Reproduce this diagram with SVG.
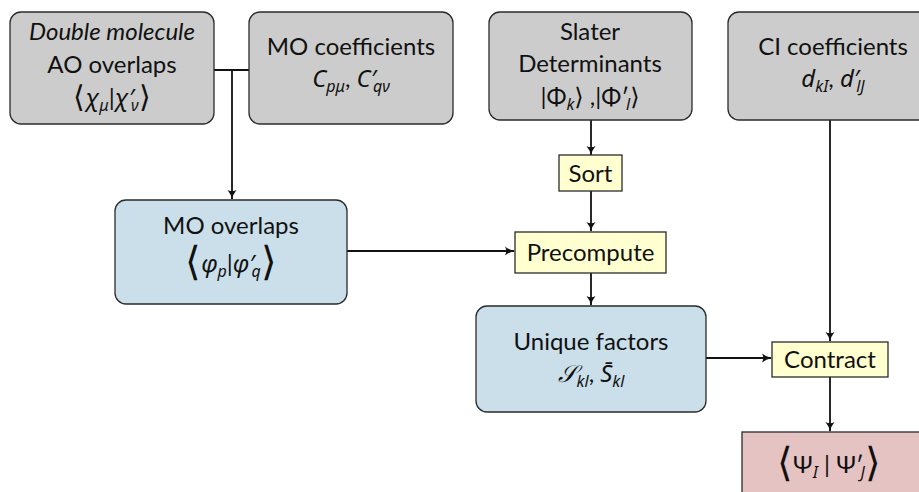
<svg xmlns="http://www.w3.org/2000/svg" width="919" height="492" viewBox="0 0 919 492">
<defs>
<style>
.box{stroke:#2b2b2b;stroke-width:1.3}
.grey{fill:#cccccc}
.blue{fill:#cadfea}
.yellow{fill:#ffffd0}
.pink{fill:#e6c3c3}
.t{font-family:Lato,"Noto Sans","DejaVu Sans",sans-serif;font-size:24px;fill:#111;text-anchor:middle}
.m{font-family:"Noto Sans","DejaVu Sans",sans-serif;font-style:italic}
.s{font-size:16px}
.big{font-size:40px;font-weight:300}
.mid{font-size:30px;font-weight:300}
.edge{stroke:#111;stroke-width:1.8;fill:none}
</style>
<marker id="arr" viewBox="0 0 10 10" refX="9" refY="5" markerWidth="10" markerHeight="10" markerUnits="userSpaceOnUse" orient="auto">
<path d="M0,0.5 Q4,4 10,5 Q4,6 0,9.5 Q2.5,5 0,0.5 z" fill="#111"/>
</marker>
</defs>
<rect width="919" height="492" fill="#ffffff"/>

<g id="connectors">
<path class="edge" d="M214,70 H249"/>
<path class="edge" d="M232,70 V199" marker-end="url(#arr)"/>
<path class="edge" d="M591,120 V155" marker-end="url(#arr)"/>
<path class="edge" d="M591,191 V231" marker-end="url(#arr)"/>
<path class="edge" d="M347,251 H514" marker-end="url(#arr)"/>
<path class="edge" d="M591,273 V305" marker-end="url(#arr)"/>
<path class="edge" d="M706,358 H771" marker-end="url(#arr)"/>
<path class="edge" d="M830,120 V341" marker-end="url(#arr)"/>
<path class="edge" d="M830,377 V431" marker-end="url(#arr)"/>
</g>

<g id="ao-overlaps">
<rect class="box grey" x="10" y="12" width="204" height="112" rx="11"/>
<text class="t" x="112" y="40" font-style="italic">Double molecule</text>
<text class="t" x="112" y="73">AO overlaps</text>
<text class="t" x="112" y="106"><tspan class="mid" dy="1">⟨</tspan><tspan class="m" dy="-1">χ</tspan><tspan class="m s" dy="5">μ</tspan><tspan dy="-5">|</tspan><tspan class="m">χ′</tspan><tspan class="m s" dy="5" dx="-3">ν</tspan><tspan class="mid" dy="-4">⟩</tspan></text>
</g>

<g id="mo-coefficients">
<rect class="box grey" x="249" y="12" width="204" height="112" rx="11"/>
<text class="t" x="351" y="55">MO coefficients</text>
<text class="t" x="351" y="87"><tspan class="m">C</tspan><tspan class="m s" dy="5">pμ</tspan><tspan dy="-5">, </tspan><tspan class="m">C′</tspan><tspan class="m s" dy="5" dx="-3">qν</tspan></text>
</g>

<g id="slater">
<rect class="box grey" x="489" y="12" width="203" height="108" rx="11"/>
<text class="t" x="590" y="40">Slater</text>
<text class="t" x="590" y="72">Determinants</text>
<text class="t" x="590" y="105">|Φ<tspan class="m s" dy="5">k</tspan><tspan dy="-5">⟩ ,|Φ′</tspan><tspan class="m s" dy="5" dx="-3">l</tspan><tspan dy="-5">⟩</tspan></text>
</g>

<g id="ci-coefficients">
<rect class="box grey" x="728" y="12" width="210" height="108" rx="11"/>
<text class="t" x="833" y="55">CI coefficients</text>
<text class="t" x="833" y="87"><tspan class="m">d</tspan><tspan class="m s" dy="5">kI</tspan><tspan dy="-5">, </tspan><tspan class="m">d′</tspan><tspan class="m s" dy="5" dx="-3">lJ</tspan></text>
</g>

<g id="sort">
<rect class="box yellow" x="559" y="155" width="63" height="36"/>
<text class="t" x="590.5" y="182">Sort</text>
</g>

<g id="mo-overlaps">
<rect class="box blue" x="115" y="200" width="232" height="104" rx="11"/>
<text class="t" x="231" y="234">MO overlaps</text>
<text class="t" x="231" y="272"><tspan class="big" dy="3">⟨</tspan><tspan class="m" dy="-3">φ</tspan><tspan class="m s" dy="5">p</tspan><tspan dy="-5">|</tspan><tspan class="m">φ′</tspan><tspan class="m s" dy="5" dx="-3">q</tspan><tspan class="big" dy="-2">⟩</tspan></text>
</g>

<g id="precompute">
<rect class="box yellow" x="515" y="232" width="151" height="41"/>
<text class="t" x="590.5" y="261">Precompute</text>
</g>

<g id="unique-factors">
<rect class="box blue" x="476" y="306" width="230" height="106" rx="11"/>
<text class="t" x="591" y="350">Unique factors</text>
<text class="t" x="591" y="382"><tspan class="m">𝒮</tspan><tspan class="m s" dy="5">kl</tspan><tspan dy="-5">, </tspan><tspan class="m">S̄</tspan><tspan class="m s" dy="5">kl</tspan></text>
</g>

<g id="contract">
<rect class="box yellow" x="772" y="342" width="116" height="35"/>
<text class="t" x="830" y="368">Contract</text>
</g>

<g id="result">
<rect class="box pink" x="742" y="432" width="190" height="70"/>
<text class="t" x="829" y="473"><tspan class="big" dy="3">⟨</tspan><tspan dy="-3">Ψ</tspan><tspan class="m s" dy="5">I</tspan><tspan dy="-5"> | Ψ′</tspan><tspan class="m s" dy="5" dx="-3">J</tspan><tspan class="big" dy="-2">⟩</tspan></text>
</g>
</svg>
